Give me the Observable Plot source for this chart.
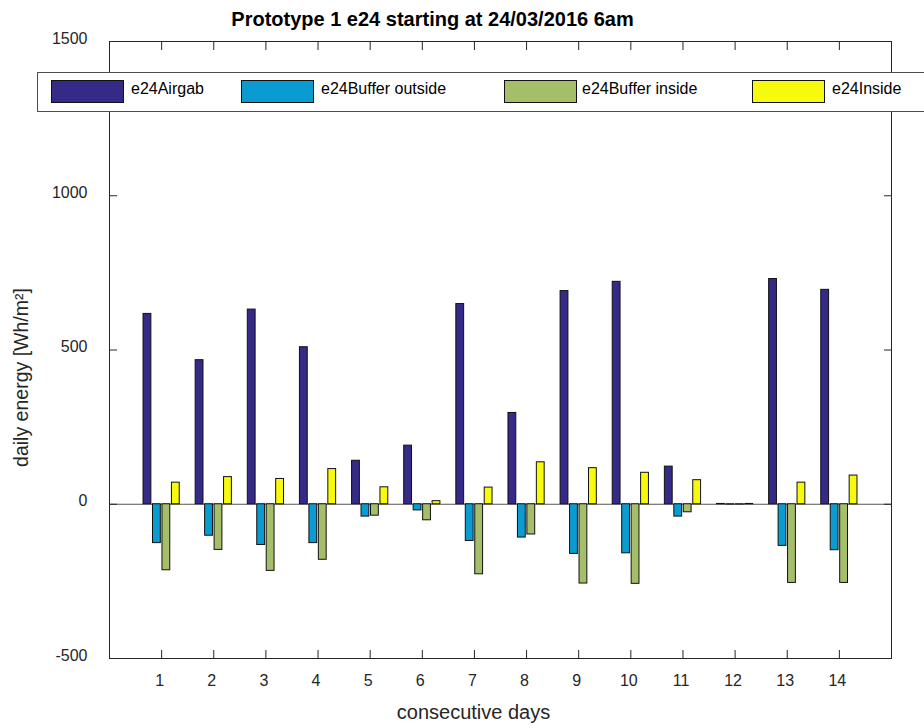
<!DOCTYPE html>
<html><head><meta charset="utf-8">
<script src="https://cdn.jsdelivr.net/npm/d3@7"></script>
<script src="https://cdn.jsdelivr.net/npm/@observablehq/plot@0.6"></script>
<style>
html,body{margin:0;padding:0;background:#fff;}
#wrap{position:relative;width:924px;height:728px;overflow:hidden;font-family:"Liberation Sans",Arial,Helvetica,sans-serif;}
#wrap svg{position:absolute;left:0;top:0;}
</style></head><body><div id="wrap"></div>
<script>
// ---- data ----
const days = [1,2,3,4,5,6,7,8,9,10,11,12,13,14];
const seriesNames = ["e24Airgab","e24Buffer outside","e24Buffer inside","e24Inside"];
const airgab        = [617, 467, 631, 509, 141, 190, 649, 296, 691, 721, 122, 1, 730, 695];
const bufferOutside = [-126,-102,-132,-126,-40, -20,-119,-108,-161,-159,-40, -1,-135,-149];
const bufferInside  = [-214,-148,-216,-180,-37, -52,-227, -98,-257,-258,-26, -1,-255,-255];
const inside        = [70,  88,  82,  114, 55,  10,  54,  136, 117, 102, 78,  1,  70,  93];
const colors = ["#352a87","#0a9cd0","#a5be6a","#f8fa0e"];
const yTicks = [-500,0,500,1000,1500];
const titleText = "Prototype 1 e24 starting at 24/03/2016 6am";
const xLabel = "consecutive days";
const yLabel = "daily energy [Wh/m²]";

const seriesValues = [airgab, bufferOutside, bufferInside, inside];
const rows = [];
seriesValues.forEach((vals, s) => vals.forEach((v, i) => rows.push({day: days[i], s, name: seriesNames[s], value: v})));

const slot = 0.1815, barW = 0.15;
const font = '"Liberation Sans", Arial, Helvetica, sans-serif';
const ink = "#262626";

const W = 924, H = 728, mL = 109, mR = 33, mT = 41, mB = 70;
const yDomain = [-500, 1500];

const chart = Plot.plot({
  width: W, height: H,
  marginLeft: mL, marginRight: mR, marginTop: mT, marginBottom: mB,
  style: {fontFamily: font, background: "transparent", color: ink},
  x: {domain: [0, 15], axis: null},
  y: {domain: yDomain, axis: null},
  color: {domain: seriesNames, range: colors},
  marks: [
    Plot.ruleY([0], {stroke: "#555", strokeWidth: 1}),
    Plot.rectY(rows, {
      x1: d => d.day + (d.s - 1.5) * slot - barW / 2,
      x2: d => d.day + (d.s - 1.5) * slot + barW / 2,
      y1: 0, y2: "value", fill: "name", stroke: "#111", strokeWidth: 1
    }),
    Plot.frame({stroke: ink, strokeWidth: 1}),
    // inward ticks
    Plot.axisX(days, {anchor: "bottom", tickSize: 8, dy: -8, tickFormat: () => "", label: null, stroke: ink}),
    Plot.axisX(days, {anchor: "top", tickSize: 8, dy: 8, tickFormat: () => "", label: null, stroke: ink}),
    Plot.axisY(yTicks, {anchor: "left", tickSize: 8, dx: 8, tickFormat: () => "", label: null, stroke: ink}),
    Plot.axisY(yTicks, {anchor: "right", tickSize: 8, dx: -8, tickFormat: () => "", label: null, stroke: ink}),
    // tick labels
    Plot.axisX(days, {anchor: "bottom", tickSize: 0, tickPadding: 16, dx: -2, fontSize: 16, tickFormat: d => String(d), label: null, fill: ink}),
    Plot.axisY(yTicks, {anchor: "left", tickSize: 0, tickPadding: 22, dy: -3, fontSize: 16, tickFormat: d => String(d), label: null, fill: ink}),
    // title and axis labels
    Plot.text([titleText], {text: d => d, frameAnchor: "top-left", dx: 432 - mL, dy: 25 - mT, textAnchor: "middle", lineAnchor: "bottom", fontSize: 20, fontWeight: "bold", fill: "#000"}),
    Plot.text([xLabel], {text: d => d, frameAnchor: "bottom-left", dx: 473 - mL, dy: 718 - (H - mB), textAnchor: "middle", lineAnchor: "bottom", fontSize: 20, fill: ink}),
    Plot.text([yLabel], {text: d => d, frameAnchor: "left", dx: 27 - mL, dy: 377 - (mT + H - mB) / 2, rotate: -90, textAnchor: "middle", lineAnchor: "bottom", fontSize: 19.5, fill: ink})
  ]
});
const wrap = document.getElementById("wrap");
wrap.appendChild(chart);

// ---- legend overlay ----
const leg = d3.create("svg").attr("width", W).attr("height", H)
  .style("font-family", font);
leg.append("rect").attr("x", 37.5).attr("y", 72.5).attr("width", 900).attr("height", 39)
  .attr("fill", "#fff").attr("stroke", "#4d4d4d").attr("stroke-width", 1);
const swatchX = [51, 241, 504, 752];
const labelX = [131, 321, 582, 832];
seriesNames.forEach((n, i) => {
  leg.append("rect").attr("x", swatchX[i] + 0.5).attr("y", 80.5).attr("width", 72).attr("height", 22)
    .attr("fill", colors[i]).attr("stroke", "#111").attr("stroke-width", 1);
  leg.append("text").attr("x", labelX[i]).attr("y", 93.5).attr("font-size", 16).attr("fill", "#000").text(n);
});
wrap.appendChild(leg.node());
</script>
</body></html>
